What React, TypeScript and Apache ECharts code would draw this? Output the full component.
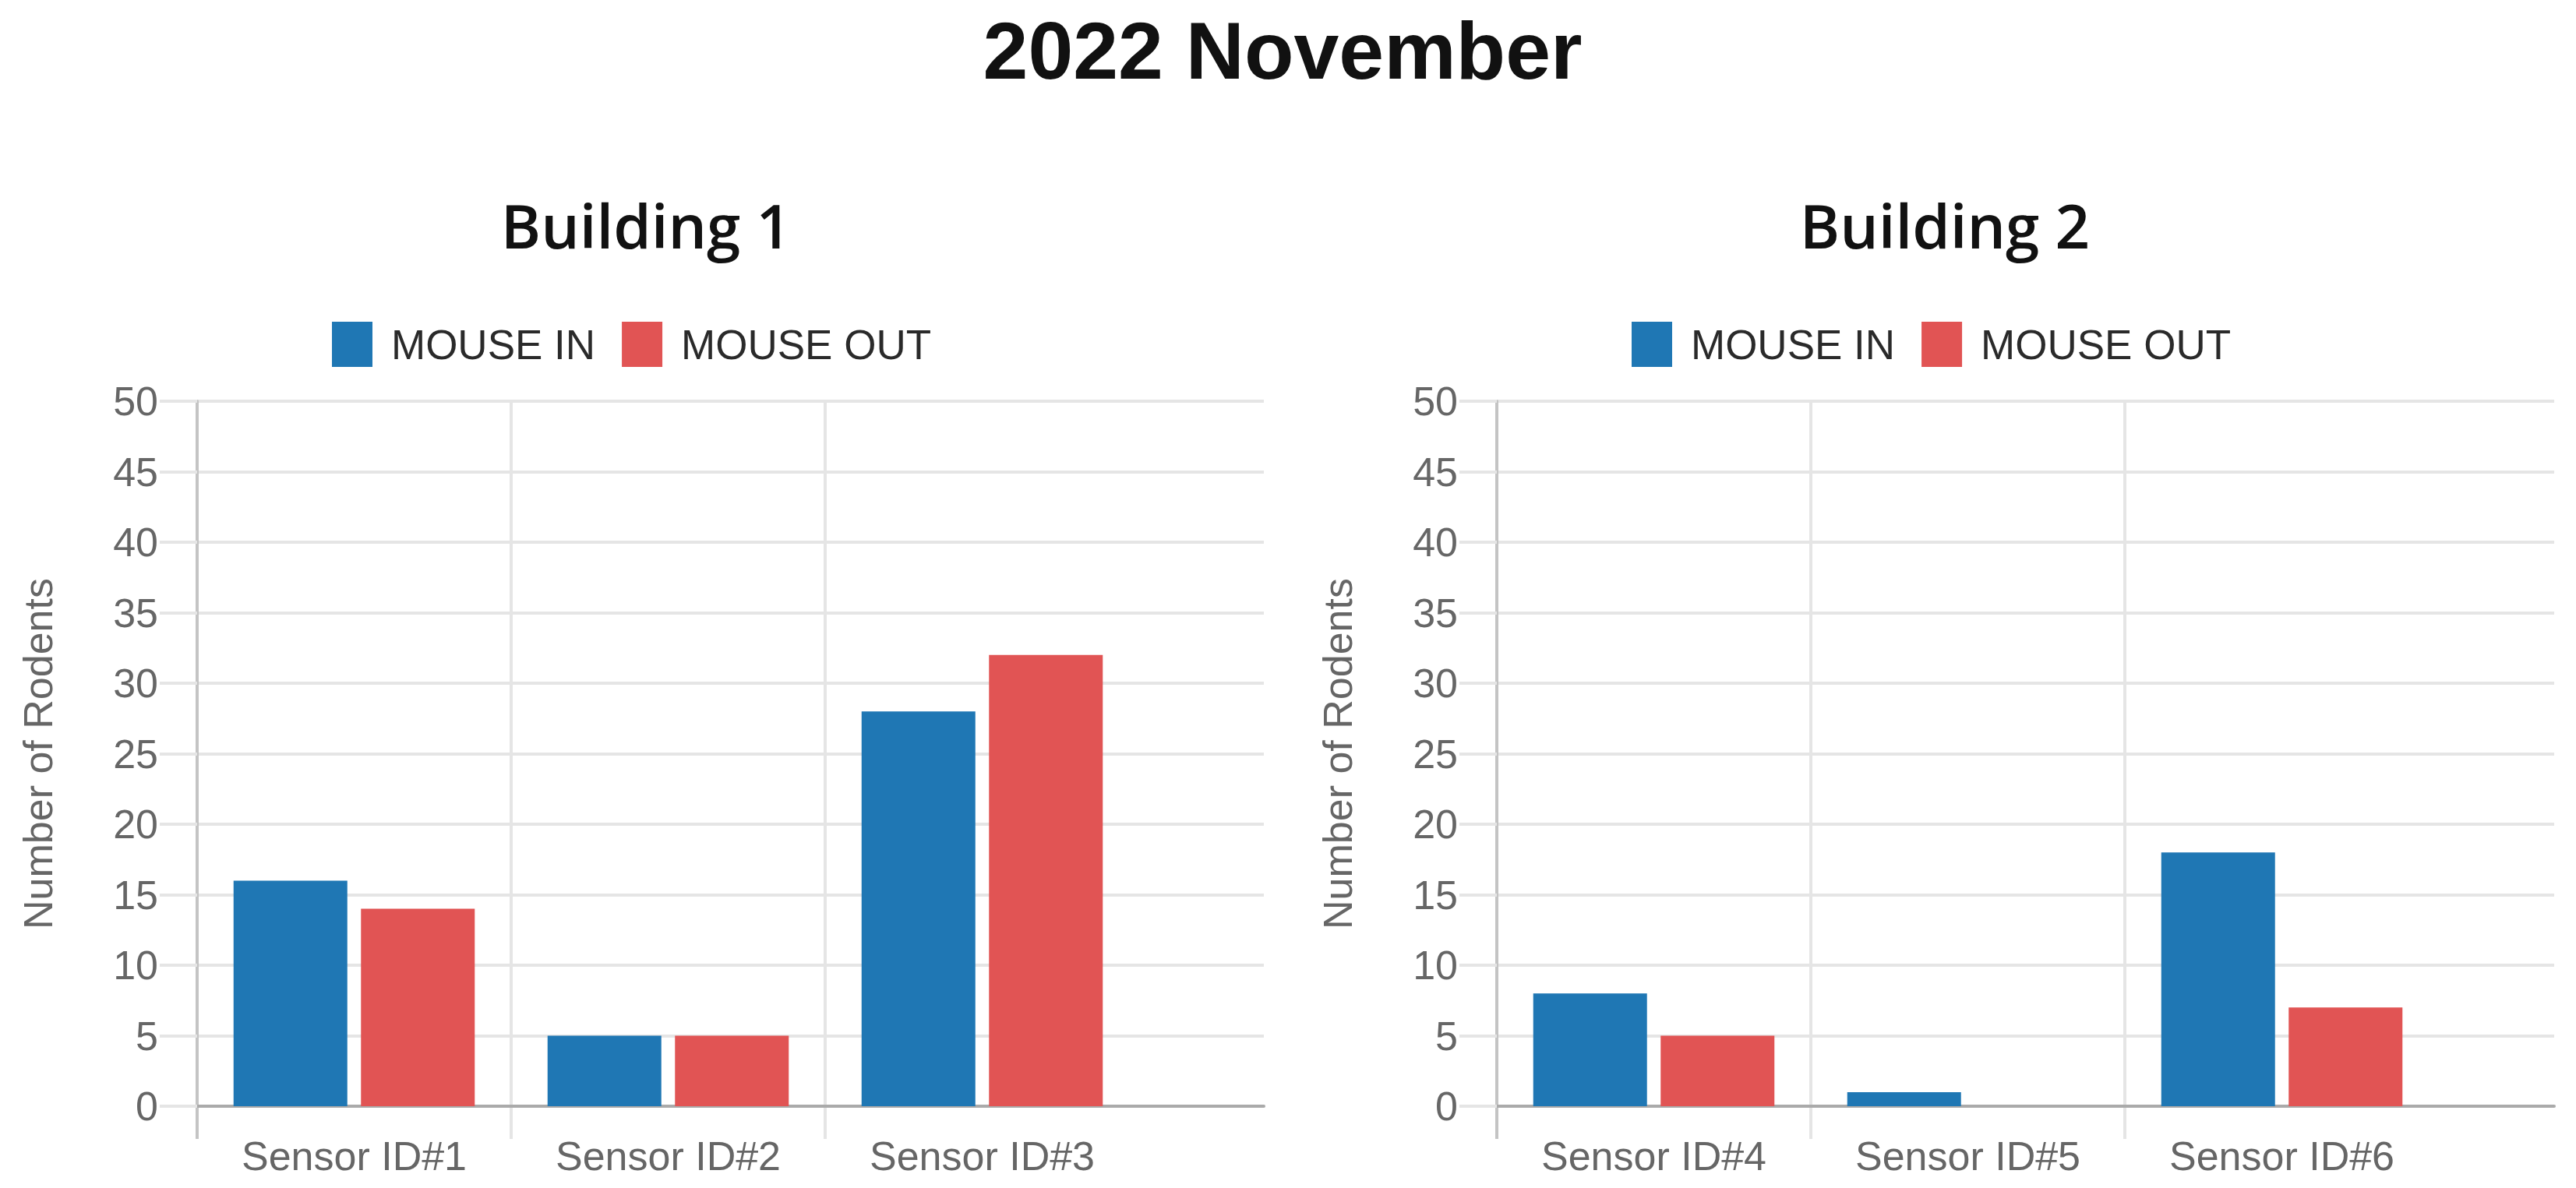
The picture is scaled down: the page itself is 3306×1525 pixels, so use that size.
import React, { useEffect, useRef } from "react";
import * as echarts from "echarts";

// ---- Data ----
const mainTitle = "2022 November";
const buildingTitles = ["Building 1", "Building 2"];
const seriesNames = ["MOUSE IN", "MOUSE OUT"];
const building1Categories = ["Sensor ID#1", "Sensor ID#2", "Sensor ID#3"];
const building2Categories = ["Sensor ID#4", "Sensor ID#5", "Sensor ID#6"];
const building1MouseIn = [16, 5, 28];
const building1MouseOut = [14, 5, 32];
const building2MouseIn = [8, 1, 18];
const building2MouseOut = [5, 0, 7];
const yMin = 0;
const yMax = 50;
const yInterval = 5;
const yAxisTitle = "Number of Rodents";

const COLORS = ["#1f77b4", "#e15454"];
const AXIS_FONT = "'Liberation Sans', Arial, Helvetica, sans-serif";
const TITLE_FONT = "'Open Sans', 'Noto Sans', sans-serif";

export default function App() {
  const ref = useRef<HTMLDivElement>(null);

  useEffect(() => {
    if (!ref.current) return;
    const chart = echarts.init(ref.current, undefined, { renderer: "svg" });

    const plotTop = 515;
    const plotH = 905; // to zero line at 1420
    const tickExt = 42; // vertical lines extend below the zero line
    const catW = 403;
    const panels = [
      { left: 253, bgW: 1369, cats: building1Categories, inV: building1MouseIn, outV: building1MouseOut, title: buildingTitles[0], titleX: 824, legendX: 421 },
      { left: 1921, bgW: 1357, cats: building2Categories, inV: building2MouseIn, outV: building2MouseOut, title: buildingTitles[1], titleX: 2491, legendX: 2089 },
    ];

    const grid: any[] = [];
    const xAxis: any[] = [];
    const yAxis: any[] = [];
    const series: any[] = [];
    const legend: any[] = [];
    const title: any[] = [
      {
        text: mainTitle,
        left: 1641,
        top: 8,
        textAlign: "center",
        textStyle: { fontFamily: AXIS_FONT, fontWeight: "bold", fontSize: 104, lineHeight: 104, color: "#111" },
      },
    ];

    const extMin = -((yMax - yMin) * tickExt) / plotH;

    panels.forEach((p) => {
      const gBg = grid.length;
      grid.push({ left: p.left, top: plotTop, width: p.bgW, height: plotH, containLabel: false });
      const gBar = grid.length;
      grid.push({ left: p.left, top: plotTop, width: catW * p.cats.length, height: plotH + tickExt, containLabel: false });

      // background grid axes
      xAxis.push({
        gridIndex: gBg,
        type: "value",
        min: 0,
        max: 1,
        axisLine: { show: true, lineStyle: { color: "#aaaaaa", width: 4 } },
        axisTick: { show: false },
        axisLabel: { show: false },
        splitLine: { show: false },
      });
      yAxis.push({
        gridIndex: gBg,
        type: "value",
        min: yMin,
        max: yMax,
        interval: yInterval,
        name: yAxisTitle,
        nameLocation: "middle",
        nameGap: 178,
        nameTextStyle: { fontFamily: AXIS_FONT, fontSize: 52, color: "#666" },
        axisLine: { show: true, lineStyle: { color: "#c4c4c4", width: 4 } },
        axisTick: { show: true, length: 48, lineStyle: { color: "#e5e5e5", width: 4 } },
        axisLabel: { margin: 50, fontFamily: AXIS_FONT, fontSize: 52, color: "#666" },
        splitLine: { show: true, lineStyle: { color: "#e5e5e5", width: 4 } },
      });

      // bar grid axes
      xAxis.push({
        gridIndex: gBar,
        type: "category",
        data: p.cats,
        boundaryGap: true,
        axisLine: { show: false },
        axisTick: { show: false },
        axisLabel: { margin: -4, fontFamily: AXIS_FONT, fontSize: 52, color: "#666" },
        splitLine: {
          show: true,
          showMaxLine: false,
          lineStyle: { color: ["#c4c4c4", "#e5e5e5", "#e5e5e5"], width: 4 },
        },
      });
      yAxis.push({
        gridIndex: gBar,
        type: "value",
        min: extMin,
        max: yMax,
        show: false,
        splitLine: { show: false },
      });

      series.push({
        name: seriesNames[0],
        type: "bar",
        xAxisIndex: gBar,
        yAxisIndex: gBar,
        data: p.inV,
        barWidth: 146,
        barGap: "12%",
        itemStyle: { color: COLORS[0] },
        z: 3,
      });
      series.push({
        name: seriesNames[1],
        type: "bar",
        xAxisIndex: gBar,
        yAxisIndex: gBar,
        data: p.outV,
        barWidth: 146,
        barGap: "12%",
        itemStyle: { color: COLORS[1] },
        z: 3,
      });

      legend.push({
        left: p.legendX,
        top: 408,
        icon: "rect",
        itemWidth: 52,
        itemHeight: 58,
        itemGap: 34,
        selectedMode: false,
        data: seriesNames,
        textStyle: { fontFamily: AXIS_FONT, fontSize: 53, color: "#2a2a2a", padding: [0, 0, 0, 19] },
      });

      title.push({
        text: p.title,
        left: p.titleX,
        top: 245,
        textAlign: "center",
        textStyle: { fontFamily: TITLE_FONT, fontWeight: 600, fontSize: 78, color: "#111" },
      });
    });

    chart.setOption({
      animation: false,
      backgroundColor: "#ffffff",
      color: COLORS,
      title,
      legend,
      grid,
      xAxis,
      yAxis,
      series,
    });

    return () => chart.dispose();
  }, []);

  return (
    <div
      ref={ref}
      style={{ position: "absolute", left: 0, top: 0, width: 3306, height: 1525, background: "#fff" }}
    />
  );
}
